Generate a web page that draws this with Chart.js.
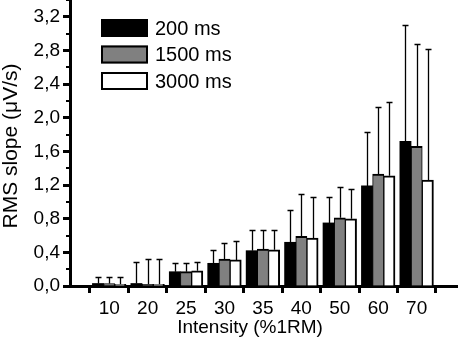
<!DOCTYPE html>
<html>
<head>
<meta charset="utf-8">
<script src="https://cdn.jsdelivr.net/npm/chart.js@4.4.0/dist/chart.umd.min.js"></script>
<style>
  html, body { margin: 0; padding: 0; background: #fff; }
  #wrap { width: 458px; height: 348px; }
</style>
</head>
<body>
<div id="wrap"><canvas id="chartRms"></canvas></div>
<script>
// RMS slope per intensity, mean and SD for each contraction time
const intensities = ['10', '20', '25', '30', '35', '40', '50', '60', '70'];
const mean200  = [0.03, 0.03, 0.17, 0.27, 0.42, 0.52, 0.75, 1.19, 1.72];
const mean1500 = [0.03, 0.02, 0.17, 0.32, 0.44, 0.59, 0.81, 1.33, 1.66];
const mean3000 = [0.02, 0.02, 0.18, 0.31, 0.43, 0.57, 0.80, 1.31, 1.26];
const sd200    = [0.08, 0.26, 0.10, 0.16, 0.24, 0.38, 0.31, 0.64, 1.38];
const sd1500   = [0.08, 0.30, 0.10, 0.19, 0.23, 0.50, 0.37, 0.80, 1.22];
const sd3000   = [0.09, 0.30, 0.11, 0.23, 0.24, 0.49, 0.35, 0.88, 1.56];

const FONT = 'Arial, "Liberation Sans", sans-serif';
const toPoints = arr => arr.map((v, i) => ({ x: i + 1, y: v }));

// upper whiskers with a short cap
const errorBars = {
    id: 'errorBars',
    afterDatasetsDraw(chart) {
        const ctx = chart.ctx;
        const yScale = chart.scales.y;
        ctx.save();
        ctx.strokeStyle = '#000';
        ctx.lineWidth = 1.3;
        chart.data.datasets.forEach((ds, di) => {
            chart.getDatasetMeta(di).data.forEach((bar, i) => {
                const top = Math.round(yScale.getPixelForValue(ds.data[i].y + ds.errors[i])) + 0.5;
                const x = Math.round(bar.x) + 0.5;
                ctx.beginPath();
                ctx.moveTo(x, bar.y);
                ctx.lineTo(x, top);
                ctx.moveTo(x - 3, top);
                ctx.lineTo(x + 3, top);
                ctx.stroke();
            });
        });
        ctx.restore();
    }
};

// minor y ticks, legend box and axis titles
const decorations = {
    id: 'decorations',
    afterDraw(chart) {
        const ctx = chart.ctx;
        const y = chart.scales.y;
        const left = chart.chartArea.left;
        ctx.save();
        ctx.fillStyle = '#000';
        y.ticks.forEach((t, i) => {
            if (i % 2 === 1) {
                ctx.fillRect(left - 4, Math.round(y.getPixelForValue(t.value)) - 1, 3, 2);
            }
        });

        ctx.font = '20px ' + FONT;
        ctx.textBaseline = 'middle';
        ctx.textAlign = 'left';
        chart.data.datasets.forEach((ds, i) => {
            const top = 19 + i * 26.5;
            ctx.fillStyle = ds.backgroundColor;
            ctx.fillRect(101, top, 47, 18);
            ctx.strokeStyle = '#000';
            ctx.lineWidth = 2;
            ctx.strokeRect(102, top + 1, 45, 16);
            ctx.fillStyle = '#000';
            ctx.fillText(ds.label, 155, top + 10);
        });

        ctx.font = '19px ' + FONT;
        ctx.textAlign = 'center';
        ctx.fillText('Intensity (%1RM)', 250, 328);
        ctx.translate(11, 146);
        ctx.rotate(-Math.PI / 2);
        ctx.font = '21px ' + FONT;
        ctx.fillText('RMS slope (\u03BCV/s)', 0, 0);
        ctx.restore();
    }
};

const halfTicks = [];
for (let v = 0.5; v <= 9.5; v += 0.5) halfTicks.push({ value: v });

new Chart(document.getElementById('chartRms'), {
    type: 'bar',
    data: {
        datasets: [{
            label: '200 ms',
            data: toPoints(mean200),
            errors: sd200,
            backgroundColor: '#000000',
            borderColor: '#000000',
            borderWidth: 0
        }, {
            label: '1500 ms',
            data: toPoints(mean1500),
            errors: sd1500,
            backgroundColor: '#808080',
            borderColor: '#000000',
            borderWidth: { top: 2, left: 1, right: 1, bottom: 0 }
        }, {
            label: '3000 ms',
            data: toPoints(mean3000),
            errors: sd3000,
            backgroundColor: '#ffffff',
            borderColor: '#000000',
            borderWidth: { top: 2, left: 1, right: 2, bottom: 0 }
        }]
    },
    options: {
        responsive: true,
        maintainAspectRatio: false,
        animation: false,
        layout: { padding: { top: 0, right: 1, left: 0, bottom: 0 } },
        datasets: {
            bar: { barThickness: 11.2 }
        },
        plugins: {
            legend: { display: false },
            tooltip: { enabled: false }
        },
        scales: {
            x: {
                type: 'linear',
                min: -0.02,
                max: 10.05,
                offset: false,
                afterBuildTicks: s => { s.ticks = halfTicks.map(t => ({ value: t.value })); },
                afterFit: s => { s.height = 62; s.paddingLeft = 0; s.paddingRight = 0; },
                ticks: {
                    autoSkip: false,
                    maxRotation: 0,
                    padding: 4,
                    color: '#000',
                    font: { family: FONT, size: 19 },
                    callback: v => Number.isInteger(v) ? intensities[v - 1] : ''
                },
                grid: {
                    offset: false,
                    drawOnChartArea: false,
                    tickLength: 7,
                    tickWidth: 3,
                    tickColor: c => Number.isInteger(c.tick.value) ? 'rgba(0,0,0,0)' : '#000'
                },
                border: { display: true, width: 3, color: '#000' }
            },
            y: {
                min: 0,
                max: 3.4,
                afterFit: s => { s.width = 70; s.paddingTop = 0; s.paddingBottom = 0; },
                ticks: {
                    stepSize: 0.2,
                    includeBounds: false,
                    autoSkip: false,
                    padding: 3,
                    color: '#000',
                    font: { family: FONT, size: 19 },
                    callback: (v, i) => i % 2 === 0 ? v.toFixed(1).replace('.', ',') : ''
                },
                grid: {
                    drawOnChartArea: false,
                    tickLength: 7,
                    tickWidth: 3,
                    tickColor: c => c.index % 2 === 0 ? '#000' : 'rgba(0,0,0,0)'
                },
                border: { display: true, width: 3, color: '#000' }
            }
        }
    },
    plugins: [errorBars, decorations]
});
</script>
</body>
</html>
